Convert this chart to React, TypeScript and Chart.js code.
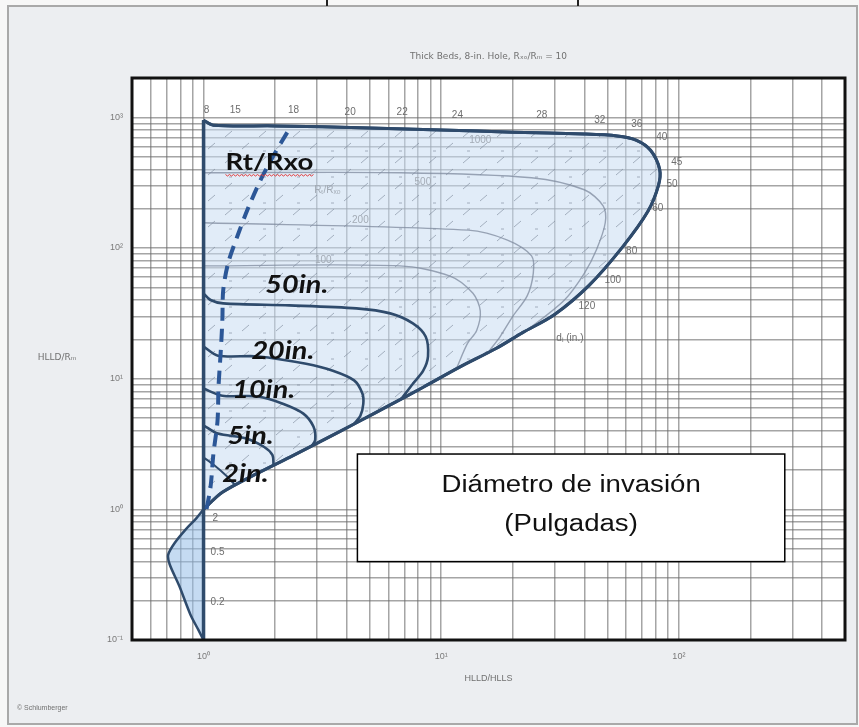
import React, { useEffect, useRef } from "react";
import { Chart, registerables } from "chart.js";

Chart.register(...registerables);

// ---------- axis ticks ----------
const xTickValues = [0.5, 0.6, 0.7, 0.8, 0.9, 1, 2, 3, 4, 5, 6, 7, 8, 9, 10, 20, 30, 40, 50, 60, 70, 80, 90, 100, 200, 300, 400, 500];
const yTickValues = [0.1, 0.2, 0.3, 0.4, 0.5, 0.6, 0.7, 0.8, 0.9, 1, 2, 3, 4, 5, 6, 7, 8, 9, 10, 20, 30, 40, 50, 60, 70, 80, 90, 100, 200, 300, 400, 500, 600, 700, 800, 900, 1000, 2000];
const xTickLabelValues = [1, 10, 100];
const xTickLabels = ["10⁰", "10¹", "10²"];
const yTickLabelValues = [0.1, 1, 10, 100, 1000];
const yTickLabels = ["10⁻¹", "10⁰", "10¹", "10²", "10³"];

// ---------- curves (HLLD/HLLS , HLLD/Rm) ----------
const envelopeX = [1, 1, 1.1, 2, 5, 10, 20, 40, 55, 66, 76, 83, 82, 74, 58, 42, 30, 22, 17, 12, 8.4, 6.1, 4.4, 3.2, 2.3, 1.7, 1.2, 1, 1, 1, 1];
const envelopeY = [950, 950, 870, 860, 830, 800, 770, 745, 720, 670, 560, 400, 300, 190, 102, 52, 31, 22.5, 17, 12.3, 8.6, 6.3, 4.6, 3.4, 2.5, 1.9, 1.35, 1, 1, 950, 950];

const lobeX = [1, 0.93, 0.84, 0.76, 0.71, 0.72, 0.79, 0.88, 0.95, 1, 1, 1];
const lobeY = [1, 0.85, 0.7, 0.56, 0.45, 0.38, 0.26, 0.157, 0.12, 0.1, 0.1, 1];

const baseLineX = [1, 1];
const baseLineY = [0.1, 950];

const di50X = [1, 1.07, 1.21, 2.3, 4.4, 6.1, 7.6, 8.6, 8.8, 8.4, 7.6, 6.8];
const di50Y = [45, 40, 37.7, 36.4, 34.5, 31.6, 26.5, 21, 14.8, 11.5, 9.15, 7.0];
const di20X = [1, 1.15, 1.7, 2.7, 3.5, 4.3, 4.66, 4.7, 4.57, 4.3];
const di20Y = [17.6, 15, 14.8, 13, 11.5, 9.7, 7.7, 6.4, 5.2, 4.5];
const di10X = [1, 1.2, 1.7, 2.17, 2.63, 2.9, 2.95, 2.85];
const di10Y = [8.4, 7.4, 7.3, 6.4, 5.4, 4.3, 3.4, 3.05];
const di5X = [1, 1.15, 1.5, 1.8, 1.95, 1.97];
const di5Y = [4.4, 3.8, 3.5, 3.0, 2.6, 2.2];
const di2X = [1, 1.1, 1.25, 1.35];
const di2Y = [2.5, 2.2, 1.8, 1.55];

const rtRxoX = [2.25, 1.97, 1.74, 1.53, 1.39, 1.27, 1.21, 1.2, 1.18, 1.156, 1.145, 1.1, 1.07, 1.02];
const rtRxoY = [767, 510, 333, 196, 124, 77, 47.5, 28, 15.6, 8.7, 4.75, 2.65, 1.48, 0.92];

const ratio500X = [1, 6.7, 24, 40, 48, 49, 45, 40, 33, 24, 21.5];
const ratio500Y = [377, 377, 345, 279, 210, 156, 97, 64, 40, 25, 22];
const ratio200X = [1, 13, 19, 24, 24.4, 23, 20, 17.7, 16];
const ratio200Y = [156, 137, 115, 87, 64, 43, 30, 21, 16.5];
const ratio100X = [1, 6.7, 10.9, 13.6, 14.6, 14.1, 12.9, 11.6];
const ratio100Y = [73, 73, 61, 45, 33, 23.4, 18.6, 12];

// ---------- text annotations ----------
const diLabels = ["8", "15", "18", "20", "22", "24", "28", "32", "36", "40", "45", "50", "60", "80", "100", "120", "dᵢ (in.)"];
const diLabelX = [1.03, 1.36, 2.39, 4.14, 6.85, 11.7, 26.5, 46.5, 66.5, 84.8, 98, 93.5, 81.5, 63.3, 52.7, 41, 34.8];
const diLabelY = [1130, 1130, 1130, 1090, 1090, 1040, 1040, 950, 885, 700, 450, 305, 203, 95, 57, 36, 20.3];

const faintLabels = ["Rₜ/Rₓₒ", "500", "200", "100", "1000", "2", "0.5", "0.2"];
const faintLabelX = [3.32, 8.37, 4.57, 3.19, 14.6, 1.12, 1.145, 1.145];
const faintLabelY = [279, 316, 164, 81, 665, 0.85, 0.467, 0.196];

const bigLabels = ["50in.", "20in.", "10in.", "5in.", "2in."];
const bigLabelX = [1.82, 1.59, 1.32, 1.26, 1.2];
const bigLabelY = [51.9, 16.1, 8.09, 3.64, 1.86];

const rtLabel = "Rt/Rxo";
const rtLabelX = 1.237;
const rtLabelY = 451;

const boxX = [4.44, 279];
const boxY = [2.65, 0.398];
const boxLines = ["Diámetro de invasión", "(Pulgadas)"];

const chartTitle = "Thick Beds, 8-in. Hole, Rₓₒ/Rₘ = 10";
const xTitle = "HLLD/HLLS";
const yTitle = "HLLD/Rₘ";
const credit = "© Schlumberger";

const pts = (xs: number[], ys: number[]) => xs.map((x, i) => ({ x, y: ys[i] }));

const NAVY = "#2f4b6c";
const GRAY_LINE = "rgba(125,138,158,0.75)";

function makeHatch(): CanvasPattern | string {
  const c = document.createElement("canvas");
  c.width = 34;
  c.height = 26;
  const g = c.getContext("2d");
  if (!g) return "rgba(200,221,242,0.55)";
  g.fillStyle = "rgba(200,221,242,0.55)";
  g.fillRect(0, 0, 34, 26);
  g.strokeStyle = "rgba(120,132,150,0.6)";
  g.lineWidth = 1;
  g.beginPath();
  g.moveTo(4, 19);
  g.lineTo(11, 13);
  g.moveTo(21, 7);
  g.lineTo(28, 1);
  g.moveTo(25, 21);
  g.lineTo(28, 21);
  g.stroke();
  const p = g.createPattern(c, "repeat");
  return p || "rgba(200,221,242,0.55)";
}

function stretchedText(ctx: CanvasRenderingContext2D, text: string, x: number, y: number, font: string, sx: number, align: CanvasTextAlign) {
  ctx.save();
  ctx.translate(x, y);
  ctx.scale(sx, 1);
  ctx.font = font;
  ctx.textAlign = align;
  ctx.textBaseline = "middle";
  ctx.fillText(text, 0, 0);
  ctx.restore();
}

const decorPlugin = {
  id: "decor",
  beforeDraw(chart: any) {
    const { ctx, width, height, chartArea: a } = chart;
    ctx.save();
    ctx.fillStyle = "#f7f7f7";
    ctx.fillRect(0, 0, width, height);
    ctx.fillStyle = "#eceef1";
    ctx.fillRect(8, 6, width - 10, height - 9);
    ctx.strokeStyle = "#a9a9a9";
    ctx.lineWidth = 2;
    ctx.strokeRect(8, 6, width - 10, height - 9);
    ctx.fillStyle = "#ffffff";
    ctx.fillRect(a.left, a.top, a.right - a.left, a.bottom - a.top);
    // fragments of cropped text above the figure
    ctx.strokeStyle = "#222";
    ctx.lineWidth = 2;
    ctx.beginPath();
    ctx.moveTo(327, 0);
    ctx.lineTo(327, 6);
    ctx.moveTo(578, 0);
    ctx.lineTo(578, 6);
    ctx.stroke();
    ctx.restore();
  },
  afterDatasetsDraw(chart: any) {
    const { ctx, chartArea: a, scales } = chart;
    const X = (v: number) => scales.x.getPixelForValue(v);
    const Y = (v: number) => scales.y.getPixelForValue(v);
    ctx.save();

    // plot frame
    ctx.strokeStyle = "#111";
    ctx.lineWidth = 3;
    ctx.strokeRect(a.left, a.top, a.right - a.left, a.bottom - a.top);

    // small gray d_i labels
    ctx.fillStyle = "#6e6e6e";
    diLabels.forEach((t, i) => {
      stretchedText(ctx, t, X(diLabelX[i]), Y(diLabelY[i]), '10px "Liberation Sans"', 1, "center");
    });

    // faint contour labels
    faintLabels.forEach((t, i) => {
      ctx.fillStyle = i >= 5 ? "#6e6e6e" : "#a3abb5";
      stretchedText(ctx, t, X(faintLabelX[i]), Y(faintLabelY[i]), '10px "Liberation Sans"', 1, "center");
    });

    // big bold labels
    ctx.fillStyle = "#111";
    bigLabels.forEach((t, i) => {
      stretchedText(ctx, t, X(bigLabelX[i]), Y(bigLabelY[i]), "italic bold 24px Lato", 1.2, "left");
    });
    const rx = X(rtLabelX);
    const ry = Y(rtLabelY);
    stretchedText(ctx, rtLabel, rx, ry, "bold 23px Lato", 1.2, "left");
    // red spelling squiggle
    ctx.font = "bold 23px Lato";
    const w = ctx.measureText(rtLabel).width * 1.2;
    ctx.strokeStyle = "#e23b3b";
    ctx.lineWidth = 1;
    ctx.beginPath();
    for (let k = 0; k <= Math.round(w / 2); k++) {
      const px = rx + k * 2;
      const py = ry + 12 + (k % 2 === 0 ? 0 : 1.5);
      if (k === 0) ctx.moveTo(px, py);
      else ctx.lineTo(px, py);
    }
    ctx.stroke();

    // annotation box
    const bx0 = X(boxX[0]);
    const bx1 = X(boxX[1]);
    const by0 = Y(boxY[0]);
    const by1 = Y(boxY[1]);
    ctx.fillStyle = "#ffffff";
    ctx.fillRect(bx0, by0, bx1 - bx0, by1 - by0);
    ctx.strokeStyle = "#000";
    ctx.lineWidth = 1.5;
    ctx.strokeRect(bx0, by0, bx1 - bx0, by1 - by0);
    ctx.fillStyle = "#111";
    const cx = (bx0 + bx1) / 2;
    const h = by1 - by0;
    stretchedText(ctx, boxLines[0], cx, by0 + h * 0.29, '23px "Liberation Sans"', 1.2, "center");
    stretchedText(ctx, boxLines[1], cx, by0 + h * 0.66, '23px "Liberation Sans"', 1.2, "center");

    // titles
    ctx.fillStyle = "#707070";
    stretchedText(ctx, chartTitle, (a.left + a.right) / 2, 57, '9px "DejaVu Sans"', 1, "center");
    stretchedText(ctx, xTitle, (a.left + a.right) / 2, 679, '9px "Liberation Sans"', 1, "center");
    stretchedText(ctx, yTitle, 57, 358, '9px "DejaVu Sans"', 1, "center");
    stretchedText(ctx, credit, 17, 708, '7px "Liberation Sans"', 1, "left");
    ctx.restore();
  },
};

export default function App() {
  const ref = useRef<HTMLCanvasElement | null>(null);

  useEffect(() => {
    document.body.style.margin = "0";
    document.body.style.background = "#ffffff";
    if (!ref.current) return;
    const hatch = makeHatch();
    const line = (data: any, color: string, width: number, order: number, extra: any = {}) => ({
      data,
      borderColor: color,
      borderWidth: width,
      pointRadius: 0,
      tension: 0.3,
      fill: false,
      order,
      ...extra,
    });

    const tickFont = { size: 9, family: "Liberation Sans" };

    // lower "order" is drawn on top
    const chart = new Chart(ref.current, {
      type: "line",
      data: {
        datasets: [
          line(pts(lobeX, lobeY), NAVY, 2.5, 20, { fill: "shape", backgroundColor: "rgba(150,190,232,0.55)" }),
          line(pts(envelopeX, envelopeY), NAVY, 3, 19, { fill: "shape", backgroundColor: hatch }),
          line(pts(ratio500X, ratio500Y), GRAY_LINE, 1.4, 10),
          line(pts(ratio200X, ratio200Y), GRAY_LINE, 1.4, 10),
          line(pts(ratio100X, ratio100Y), GRAY_LINE, 1.4, 10),
          line(pts(di50X, di50Y), NAVY, 2.6, 5),
          line(pts(di20X, di20Y), NAVY, 2.6, 5),
          line(pts(di10X, di10Y), NAVY, 2.6, 5),
          line(pts(di5X, di5Y), NAVY, 2.6, 5),
          line(pts(di2X, di2Y), NAVY, 2, 5),
          line(pts(envelopeX, envelopeY), NAVY, 3, 3),
          line(pts(baseLineX, baseLineY), NAVY, 3.5, 2, { tension: 0 }),
          line(pts(rtRxoX, rtRxoY), "#2c5797", 4, 1, { borderDash: [13, 8] }),
        ],
      },
      options: {
        responsive: false,
        animation: false,
        maintainAspectRatio: false,
        layout: { padding: { top: 78, right: 14, left: 0, bottom: 0 } },
        plugins: {
          legend: { display: false },
          title: { display: false },
          tooltip: { enabled: false },
        },
        scales: {
          x: {
            type: "logarithmic",
            min: 0.5,
            max: 500,
            afterBuildTicks: (s: any) => {
              s.ticks = xTickValues.map((v) => ({ value: v }));
            },
            afterFit: (s: any) => {
              s.height = 87;
            },
            grid: { color: "rgba(105,105,105,0.6)", lineWidth: 1.5, drawTicks: false },
            border: { display: false },
            ticks: {
              autoSkip: false,
              maxRotation: 0,
              minRotation: 0,
              padding: 11,
              color: "#7a7a7a",
              font: tickFont,
              callback: (v: any) => {
                const i = xTickLabelValues.indexOf(Number(v));
                return i >= 0 ? xTickLabels[i] : "";
              },
            },
          },
          y: {
            type: "logarithmic",
            min: 0.1,
            max: 2000,
            afterBuildTicks: (s: any) => {
              s.ticks = yTickValues.map((v) => ({ value: v }));
            },
            afterFit: (s: any) => {
              s.width = 132;
            },
            grid: { color: "rgba(105,105,105,0.6)", lineWidth: 1.5, drawTicks: false },
            border: { display: false },
            ticks: {
              autoSkip: false,
              padding: 9,
              color: "#7a7a7a",
              font: tickFont,
              callback: (v: any) => {
                const i = yTickLabelValues.indexOf(Number(v));
                return i >= 0 ? yTickLabels[i] : "";
              },
            },
          },
        },
      },
      plugins: [decorPlugin],
    } as any);

    return () => chart.destroy();
  }, []);

  return (
    <div style={{ width: 859, height: 727 }}>
      <canvas ref={ref} width={859} height={727} style={{ display: "block" }} />
    </div>
  );
}
